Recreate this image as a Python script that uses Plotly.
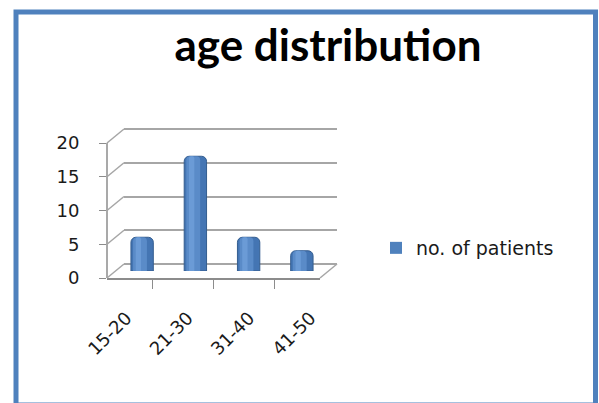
import plotly.graph_objects as go

# ---- data ----
categories = ["15-20", "21-30", "31-40", "41-50"]
patients = [5, 17, 5, 3]
y_ticks = [0, 5, 10, 15, 20]
series_name = "no. of patients"
title_text = "age distribution"

W, H = 599, 403

def px_x(x):
    return x / W

def px_y(y):
    return 1 - y / H

# front plane (axes with labels)
FX0, FX1, FY0, FY1 = 107, 320, 278, 143
# depth offset for back wall
DX, DY = 17, -14
MDX, MDY = DX / 2, DY / 2
LBX = 5  # horizontal nudge of the category label axis
YMAX = 20
YTOP = 20.3  # small headroom so the top gridline is drawn
PXU = (FY0 - FY1) / YMAX  # pixels per unit

def ydom(y0px):
    return [px_y(y0px), px_y(y0px - PXU * YTOP)]

fig = go.Figure()

# legend carrier (hidden under the cylinders, square legend swatch)
fig.add_trace(go.Bar(x=categories, y=patients, name=series_name, width=0.05,
                     marker=dict(color="#4f81bd", line=dict(width=0)),
                     xaxis="x3", yaxis="y3", showlegend=True))
# cylinder-like bars on mid-depth axes (overlay shading layers)
fig.add_trace(go.Bar(x=categories, y=patients, width=0.42,
                     marker=dict(color="#4475b3", line=dict(color="#345d8f", width=1),
                                 cornerradius=5),
                     xaxis="x3", yaxis="y3", showlegend=False, hoverinfo="skip"))
fig.add_trace(go.Bar(x=categories, y=patients, width=0.26, offset=-0.17,
                     marker=dict(color="#5a8bc8", cornerradius=4, line=dict(width=0)),
                     xaxis="x3", yaxis="y3", showlegend=False, hoverinfo="skip"))
fig.add_trace(go.Bar(x=categories, y=patients, width=0.10, offset=-0.12,
                     marker=dict(color="#6b9bd6", cornerradius=3, line=dict(width=0)),
                     xaxis="x3", yaxis="y3", showlegend=False, hoverinfo="skip"))

# dummy traces so axes render
fig.add_trace(go.Scatter(x=categories, y=[None] * len(categories), xaxis="x2", yaxis="y2",
                         showlegend=False, hoverinfo="skip"))
fig.add_trace(go.Scatter(x=categories, y=[None] * len(categories), xaxis="x", yaxis="y",
                         showlegend=False, hoverinfo="skip"))
fig.add_trace(go.Scatter(x=categories, y=[None] * len(categories), xaxis="x4", yaxis="y",
                         showlegend=False, hoverinfo="skip"))

axis_col = "#8c8c8c"
grid_col = "#a6a6a6"
ytick_font = dict(family="DejaVu Sans", size=18, color="#1a1a1a")
xtick_font = dict(family="DejaVu Sans", size=18, color="#1a1a1a")

fig.update_layout(
    width=W, height=H,
    margin=dict(l=0, r=0, t=0, b=0, pad=0, autoexpand=False),
    paper_bgcolor="white", plot_bgcolor="rgba(0,0,0,0)",
    barmode="overlay",
    title=dict(text="<b>" + title_text + "</b>", x=px_x(328), xanchor="center",
               y=px_y(46), yanchor="middle", automargin=False,
               font=dict(family="Lato", size=44, color="black")),
    # back wall axes (gridlines)
    xaxis2=dict(domain=[px_x(FX0 + DX), px_x(FX1 + DX)], type="category", automargin=False,
                showticklabels=False, showgrid=False, showline=False, anchor="y2"),
    yaxis2=dict(domain=ydom(FY0 + DY), range=[0, YTOP], automargin=False,
                tickvals=y_ticks, showticklabels=False, showgrid=True,
                gridcolor=grid_col, gridwidth=1.5, zeroline=True,
                zerolinecolor=grid_col, zerolinewidth=1.5,
                showline=False, anchor="x2"),
    # mid-depth axes for bars
    xaxis3=dict(domain=[px_x(FX0 + MDX), px_x(FX1 + MDX)], type="category", automargin=False,
                showticklabels=False, showgrid=False, showline=False, anchor="y3"),
    yaxis3=dict(domain=ydom(FY0 + MDY), range=[0, YTOP], automargin=False,
                showticklabels=False, showgrid=False, zeroline=False,
                showline=False, anchor="x3"),
    # category label axis
    xaxis4=dict(domain=[px_x(FX0 + LBX), px_x(FX1 + LBX)], type="category", automargin=False,
                showline=False, ticks="", showgrid=False, anchor="y",
                tickangle=-45, tickfont=xtick_font, ticklabelstandoff=25),
    # front axes
    xaxis=dict(domain=[px_x(FX0), px_x(FX1)], type="category", automargin=False,
               showline=True, linecolor=axis_col, linewidth=1.5,
               ticks="outside", tickson="boundaries", ticklen=9, tickcolor=axis_col,
               showticklabels=False,
               showgrid=False, anchor="y"),
    yaxis=dict(domain=ydom(FY0), range=[0, YTOP], automargin=False,
               tickvals=y_ticks, showline=False, linecolor=axis_col, linewidth=1.5,
               ticks="outside", ticklen=7, tickcolor=axis_col, tickfont=ytick_font,
               ticklabelstandoff=16,
               showgrid=False, zeroline=False, anchor="x"),
    legend=dict(x=px_x(376), y=px_y(248), xanchor="left", yanchor="middle",
                font=dict(family="DejaVu Sans", size=19, color="#1a1a1a"),
                bgcolor="rgba(0,0,0,0)"),
)

# 3D decoration: front vertical axis, left wall diagonals, floor right edge
shapes = [dict(type="line", xref="paper", yref="paper",
               x0=px_x(FX0), y0=px_y(FY0), x1=px_x(FX0), y1=px_y(FY1),
               line=dict(color=axis_col, width=1.5))]
for v in y_ticks:
    yf = FY0 + (FY1 - FY0) * v / YMAX
    shapes.append(dict(type="line", xref="paper", yref="paper",
                       x0=px_x(FX0), y0=px_y(yf), x1=px_x(FX0 + DX), y1=px_y(yf + DY),
                       line=dict(color=grid_col, width=1.5)))
shapes.append(dict(type="line", xref="paper", yref="paper",
                   x0=px_x(FX1), y0=px_y(FY0), x1=px_x(FX1 + DX), y1=px_y(FY0 + DY),
                   line=dict(color=grid_col, width=1.5)))
# outer frame
shapes.append(dict(type="rect", xref="paper", yref="paper",
                   x0=px_x(16), y0=px_y(405), x1=px_x(595.5), y1=px_y(12),
                   line=dict(color="#4f81bd", width=5), layer="below"))
fig.update_layout(shapes=shapes)

fig.write_html("out.html")
